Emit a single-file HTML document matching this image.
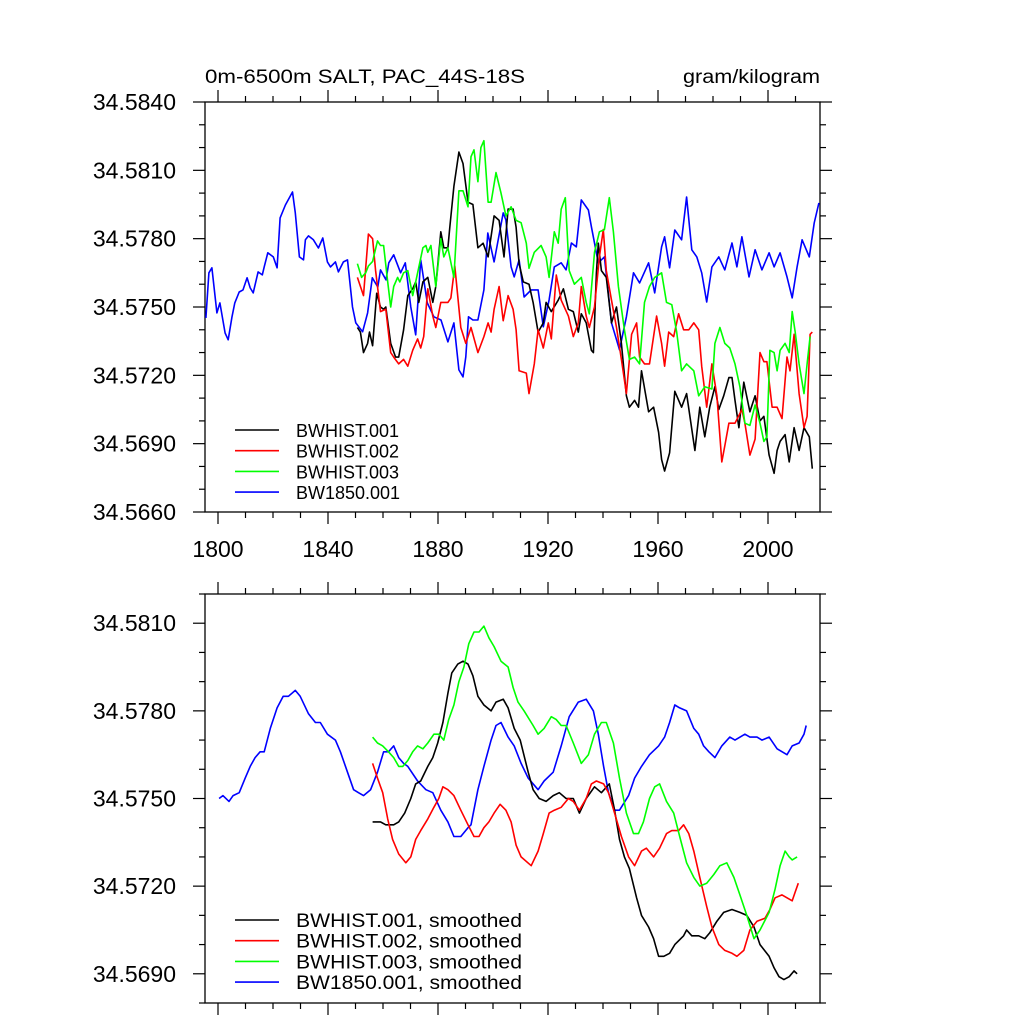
<!DOCTYPE html>
<html><head><meta charset="utf-8"><style>
html,body{margin:0;padding:0;background:#fff;}
svg{display:block;font-family:"Liberation Sans",Arial,sans-serif;}
</style></head>
<body>
<svg id="chart" width="1024" height="1024" viewBox="0 0 1024 1024" xmlns="http://www.w3.org/2000/svg">
<rect x="0" y="0" width="1024" height="1024" fill="#fff"/>
<text x="205" y="83" font-size="19" textLength="320" lengthAdjust="spacingAndGlyphs">0m-6500m SALT, PAC_44S-18S</text>
<text x="820" y="83" font-size="19" text-anchor="end" textLength="137" lengthAdjust="spacingAndGlyphs">gram/kilogram</text>
<g id="top"></g>
<g id="bot"></g>
</svg>
<script>
// ---- data: top panel (annual means) ----
const blueYears=[1795.6,1796.7,1797.8,1799.6,1800.7,1802.6,1803.7,1805.1,1806.1,1807.7,1809.1,1810.6,1811.7,1812.8,1814.6,1816.1,1816.8,1818.1,1820.1,1821.5,1822.6,1824.5,1827.1,1828.1,1829.6,1831.1,1831.8,1832.9,1834.7,1836.5,1838.1,1839.8,1840.9,1842.7,1843.8,1845.6,1847.1,1848.9,1850.1,1852.6,1854.4,1856.1,1858.1,1859.1,1861.1,1862.1,1863.9,1866.4,1868.1,1870.1,1871.9,1873.7,1876.1,1878.5,1881.1,1883.6,1885.8,1887.6,1889.1,1890.1,1891.1,1892.7,1894.5,1896.7,1898.1,1900.4,1903.7,1904.7,1906.6,1907.7,1909.5,1911.3,1913.9,1916.4,1918.3,1920.4,1922.3,1924.8,1926.6,1928.5,1930.3,1932.1,1934.7,1935.8,1938.3,1940.5,1943.1,1946.0,1948.5,1951.1,1953.3,1956.6,1958.8,1961.3,1962.4,1964.2,1966.1,1968.6,1970.4,1972.3,1974.1,1975.9,1977.7,1979.6,1982.1,1984.3,1986.9,1988.7,1990.5,1993.1,1995.3,1997.8,2000.4,2002.2,2004.4,2006.9,2008.8,2010.6,2012.4,2015.0,2016.8,2018.5];
const blueVals=[34.57452,34.57650,34.57672,34.57474,34.57518,34.57386,34.57356,34.57457,34.57518,34.57566,34.57575,34.57628,34.57584,34.57562,34.57654,34.57641,34.57676,34.57738,34.57720,34.57672,34.57891,34.57948,34.58005,34.57913,34.57720,34.57707,34.57795,34.57812,34.57795,34.57759,34.57803,34.57698,34.57676,34.57698,34.57654,34.57698,34.57707,34.57500,34.57430,34.57391,34.57474,34.57628,34.57588,34.57663,34.57619,34.57694,34.57729,34.57650,34.57694,34.57500,34.57378,34.57707,34.57518,34.57457,34.57443,34.57347,34.57430,34.57224,34.57193,34.57281,34.57457,34.57443,34.57443,34.57575,34.57825,34.57698,34.57913,34.57882,34.57676,34.57632,34.57707,34.57544,34.57575,34.57575,34.57413,34.57531,34.57676,34.57694,34.57663,34.57781,34.57764,34.57970,34.57926,34.57852,34.57694,34.57720,34.57430,34.57312,34.57457,34.57650,34.57606,34.57694,34.57562,34.57764,34.57808,34.57672,34.57838,34.57795,34.57983,34.57751,34.57720,34.57650,34.57522,34.57676,34.57720,34.57663,34.57781,34.57676,34.57808,34.57632,34.57751,34.57663,34.57738,34.57676,34.57738,34.57632,34.57540,34.57676,34.57795,34.57720,34.57869,34.57957];
const blackYears=[1850.7,1851.8,1852.9,1854.4,1855.1,1856.2,1857.7,1859.1,1860.2,1861,1862.8,1864.6,1865.7,1867.5,1869,1870.8,1871.9,1873,1874.5,1876.3,1878.1,1879.2,1881,1882.1,1883.6,1884.3,1885.8,1887.6,1889.1,1890.9,1892.7,1894.5,1896.4,1898.2,1900.4,1902.2,1904,1905.5,1907.3,1908.4,1909.5,1911,1913.1,1914.6,1916.4,1918.3,1919.3,1921.2,1923.7,1925.6,1927.4,1929.2,1931,1932.1,1933.9,1935.8,1936.5,1937.6,1938.3,1939.4,1941.2,1943.1,1944.9,1946.7,1948.5,1949.6,1951.5,1952.9,1954,1956.6,1958.4,1960.2,1961.3,1962.4,1964.2,1966.1,1968.6,1970.4,1973.4,1975.2,1977,1978.8,1980.7,1982.1,1983.9,1985.8,1986.9,1988,1989.4,1991.2,1993.4,1995.3,1997.1,1998.5,2000.4,2002.2,2003.3,2004.4,2006.2,2007.7,2009.5,2011.3,2013.1,2015,2016.1];
const blackVals=[34.5741,34.5739,34.5730,34.5734,34.5739,34.5733,34.5756,34.5750,34.5749,34.5750,34.5734,34.5728,34.5728,34.5740,34.5755,34.5758,34.5761,34.5752,34.5761,34.5763,34.5752,34.5759,34.5783,34.5776,34.5776,34.5785,34.5803,34.5818,34.5813,34.5796,34.5795,34.5776,34.5778,34.5772,34.5790,34.5788,34.5772,34.5793,34.5793,34.5785,34.5769,34.5761,34.5760,34.5752,34.5739,34.5743,34.5752,34.5748,34.5753,34.5758,34.5749,34.5748,34.5739,34.5747,34.5743,34.5731,34.5730,34.5765,34.5778,34.5766,34.5763,34.5743,34.5750,34.5734,34.5711,34.5706,34.5709,34.5706,34.5722,34.5704,34.5706,34.5695,34.5683,34.5678,34.5686,34.5713,34.5706,34.5712,34.5687,34.5706,34.5693,34.5706,34.5715,34.5705,34.5711,34.5719,34.5719,34.5709,34.5697,34.5717,34.5704,34.5711,34.5700,34.5702,34.5685,34.5677,34.5687,34.5691,34.5694,34.5682,34.5697,34.5687,34.5697,34.5693,34.5679];
const redYears=[1850.7,1852.9,1854.7,1856.2,1857.3,1859.1,1861,1862.8,1863.9,1865.7,1867.5,1869,1870.8,1872.6,1873.7,1874.8,1876.3,1878.1,1879.2,1881,1883.6,1884.7,1886.1,1888.3,1890.1,1892,1894.5,1896.7,1898.2,1899.3,1900.4,1902.2,1903.7,1905.5,1907.3,1908.4,1909.5,1912.1,1913.1,1915,1916.4,1918.3,1920.1,1921.2,1923,1924.8,1927.4,1929.2,1931,1932.1,1933.9,1935,1936.9,1938.7,1940.1,1941.2,1943.1,1944.9,1946.7,1948.5,1950.4,1952.2,1953.3,1955.1,1956.9,1959.5,1961.3,1962.4,1963.9,1965.7,1967.5,1969.3,1971.2,1973,1974.8,1975.9,1977.7,1979.6,1981.4,1983.2,1984.3,1985.8,1988,1990.5,1991.6,1993.4,1995.3,1997.1,1998.5,1999.6,2001.5,2003.3,2005.1,2006.9,2008,2009.5,2011.3,2013.1,2014.2,2015.3,2016.1];
const redVals=[34.5763,34.5755,34.5782,34.5780,34.5766,34.5748,34.5749,34.5730,34.5728,34.5725,34.5727,34.5724,34.5731,34.5736,34.5732,34.5737,34.5758,34.5746,34.5741,34.5752,34.5752,34.5754,34.5768,34.5741,34.5734,34.5741,34.5730,34.5737,34.5743,34.5739,34.5749,34.5759,34.5744,34.5755,34.5749,34.5740,34.5722,34.5721,34.5712,34.5725,34.5740,34.5732,34.5743,34.5736,34.5764,34.5753,34.5746,34.5737,34.5743,34.5759,34.5746,34.5741,34.5750,34.5772,34.5784,34.5766,34.5753,34.5741,34.5727,34.5712,34.5738,34.5743,34.5728,34.5725,34.5725,34.5746,34.5734,34.5724,34.5739,34.5737,34.5747,34.5740,34.5740,34.5743,34.5740,34.5724,34.5706,34.5725,34.5711,34.5682,34.5689,34.5699,34.5699,34.5705,34.5699,34.5685,34.5692,34.5730,34.5726,34.5726,34.5706,34.5706,34.5701,34.5728,34.5722,34.5738,34.5712,34.5697,34.5702,34.5738,34.5739];
const greenYears=[1850.7,1852.2,1853.7,1854.7,1856.2,1858,1859.1,1860.2,1861.7,1862.8,1863.9,1865.3,1866.1,1867.5,1869,1870.8,1871.9,1874.5,1875.6,1876.3,1877.4,1879.2,1881,1882.1,1883.6,1885.8,1887.6,1889.1,1890.9,1892,1893.1,1894.5,1895.6,1896.7,1898.2,1899.3,1901.1,1902.9,1904.7,1906.6,1908.4,1910.2,1912.1,1913.1,1915,1917.5,1919.3,1920.4,1922.3,1923.7,1924.8,1926.3,1927.7,1929.6,1932.1,1933.9,1935,1936.9,1938.7,1940.5,1942.3,1943.8,1945.6,1947.8,1949.6,1951.5,1953.3,1955.1,1956.9,1958.8,1961.3,1963.1,1965,1966.8,1968.6,1970.4,1973,1974.8,1977,1979.6,1980.7,1982.5,1984.3,1986.1,1988,1989.8,1991.6,1993.4,1995.3,1997.1,1998.5,1999.6,2000.7,2002.2,2003.3,2004.4,2006.2,2007.7,2008.8,2009.9,2011.3,2013.1,2014.2,2015.3];
const greenVals=[34.5769,34.5763,34.5765,34.5768,34.5770,34.5779,34.5777,34.5777,34.5761,34.5750,34.5759,34.5763,34.5761,34.5765,34.5766,34.5755,34.5761,34.5776,34.5777,34.5774,34.5777,34.5759,34.5780,34.5772,34.5776,34.5763,34.5801,34.5801,34.5794,34.5816,34.5819,34.5805,34.5820,34.5823,34.5796,34.5796,34.5809,34.5800,34.5790,34.5794,34.5788,34.5787,34.5778,34.5767,34.5774,34.5777,34.5772,34.5763,34.5783,34.5778,34.5793,34.5798,34.5766,34.5760,34.5763,34.5752,34.5747,34.5774,34.5783,34.5784,34.5798,34.5783,34.5759,34.5740,34.5727,34.5728,34.5725,34.5752,34.5759,34.5763,34.5765,34.5752,34.5751,34.5739,34.5722,34.5725,34.5722,34.5711,34.5715,34.5714,34.5734,34.5741,34.5734,34.5732,34.5725,34.5715,34.5699,34.5698,34.5707,34.5699,34.5691,34.5693,34.5731,34.5730,34.5722,34.5731,34.5734,34.5730,34.5748,34.5739,34.5725,34.5712,34.5725,34.5737];
// ---- data: bottom panel (smoothed) ----
const sBlueYears=[1800.4,1801.8,1804,1805.5,1807.7,1809.9,1811.7,1813.5,1815.3,1816.8,1819,1821.5,1823.7,1825.6,1828.1,1829.9,1832.9,1835.4,1837.2,1839.8,1842.7,1844.5,1847.1,1849.3,1851.1,1852.9,1855.5,1858,1860.2,1862,1863.9,1865.7,1867.5,1869,1872.6,1875.6,1878.1,1881,1883.6,1885.8,1888.3,1890.9,1892,1894.5,1896.7,1899.3,1901.1,1902.9,1905.5,1907.7,1910.2,1912.8,1916.4,1918.6,1921.9,1924.8,1927.7,1931,1933.9,1936.5,1938.3,1940.2,1942,1944.2,1946,1949.3,1951.5,1954,1956.9,1960.2,1962.4,1964.2,1966.1,1967.9,1970.4,1973,1974.8,1976.6,1978.5,1980.7,1983.2,1986.1,1988,1991.6,1993.4,1996,1997.8,2000.4,2003.3,2006.9,2008.8,2011.3,2013.1,2013.9];
const sBlueVals=[34.5750,34.5751,34.5749,34.5751,34.5752,34.5757,34.5761,34.5764,34.5766,34.5766,34.5774,34.5781,34.5785,34.5785,34.5787,34.5785,34.5779,34.5776,34.5776,34.5772,34.5770,34.5766,34.5759,34.5753,34.5752,34.5751,34.5753,34.5759,34.5766,34.5766,34.5768,34.5764,34.5762,34.5761,34.5756,34.5753,34.5752,34.5746,34.5742,34.5737,34.5737,34.5740,34.5741,34.5753,34.5761,34.5770,34.5775,34.5776,34.5771,34.5768,34.5762,34.5757,34.5753,34.5756,34.5759,34.5768,34.5778,34.5783,34.5784,34.5780,34.5772,34.5761,34.5752,34.5746,34.5746,34.5751,34.5757,34.5761,34.5765,34.5768,34.5771,34.5776,34.5782,34.5781,34.5780,34.5774,34.5772,34.5768,34.5766,34.5764,34.5768,34.5771,34.5770,34.5772,34.5771,34.5771,34.5770,34.5771,34.5767,34.5765,34.5768,34.5769,34.5772,34.5775];
const sBlackYears=[1856.2,1859.1,1861,1863.9,1865.7,1867.9,1870.1,1871.9,1873.7,1876.3,1878.1,1879.9,1881.8,1883.6,1885,1887.2,1889.1,1890.9,1892.7,1894.5,1896.7,1899.3,1901.1,1903.7,1905.5,1907.7,1909.9,1912.8,1914.6,1916.8,1919.3,1921.9,1924.1,1926.6,1929.2,1931.4,1933.9,1936.9,1939.4,1942.3,1944.2,1946,1947.8,1949.6,1952.2,1954,1956.6,1958.4,1960.2,1962.1,1964.2,1966.1,1969.3,1970.4,1972.3,1974.8,1977,1978.8,1981.4,1983.9,1986.9,1989.8,1992.3,1994.9,1997.1,2000.4,2002.2,2004,2005.8,2007.7,2009.5,2010.6];
const sBlackVals=[34.5742,34.5742,34.5741,34.5741,34.5742,34.5745,34.5750,34.5755,34.5756,34.5761,34.5764,34.5769,34.5776,34.5786,34.5793,34.5796,34.5797,34.5796,34.5792,34.5785,34.5782,34.5780,34.5783,34.5784,34.5781,34.5774,34.5770,34.5759,34.5753,34.5750,34.5749,34.5751,34.5752,34.5750,34.5750,34.5745,34.5750,34.5754,34.5752,34.5755,34.5746,34.5736,34.5730,34.5726,34.5716,34.5710,34.5706,34.5702,34.5696,34.5696,34.5697,34.5700,34.5703,34.5705,34.5703,34.5703,34.5702,34.5704,34.5708,34.5711,34.5712,34.5711,34.5710,34.5706,34.5700,34.5696,34.5692,34.5689,34.5688,34.5689,34.5691,34.5690];
const sRedYears=[1856.2,1858,1859.9,1861.7,1863.5,1865.7,1868.3,1870.1,1871.9,1873.7,1876.3,1878.5,1880.3,1881.8,1883.6,1885.8,1888.3,1890.9,1893.1,1894.9,1896.7,1898.5,1900.4,1902.6,1904.7,1906.6,1908.4,1910.2,1913.9,1916.4,1918.3,1920.4,1922.3,1924.8,1927.4,1929.2,1931.4,1933.9,1935.8,1937.6,1940.2,1942,1944.2,1946.7,1949.3,1951.5,1954,1955.8,1958.4,1960.6,1963.1,1965,1967.5,1969.3,1971.2,1973,1975.2,1977.7,1979.6,1982.1,1984.3,1986.9,1988.7,1991.2,1993.4,1996,1998.9,2000.7,2002.6,2005.1,2006.9,2008.8,2009.9,2011];
const sRedVals=[34.5762,34.5757,34.5752,34.5743,34.5736,34.5731,34.5728,34.5730,34.5736,34.5739,34.5743,34.5747,34.5750,34.5754,34.5753,34.5751,34.5746,34.5741,34.5737,34.5737,34.5740,34.5742,34.5745,34.5748,34.5746,34.5742,34.5734,34.5730,34.5727,34.5732,34.5738,34.5745,34.5746,34.5747,34.5750,34.5749,34.5746,34.5750,34.5755,34.5756,34.5755,34.5752,34.5745,34.5737,34.5730,34.5727,34.5732,34.5733,34.5730,34.5733,34.5738,34.5739,34.5739,34.5741,34.5738,34.5732,34.5723,34.5713,34.5706,34.5700,34.5698,34.5697,34.5696,34.5698,34.5705,34.5708,34.5709,34.5712,34.5716,34.5717,34.5716,34.5715,34.5718,34.5721];
const sGreenYears=[1856.2,1858,1859.9,1862,1863.9,1865.7,1867.2,1869,1870.8,1872.6,1874.5,1876.3,1878.5,1880.3,1882.1,1883.9,1885.8,1887.6,1889.4,1891.2,1893.1,1894.9,1896.7,1898.5,1900.4,1902.9,1905.5,1907.3,1909.1,1911.3,1914.6,1916.4,1918.6,1921.2,1923,1924.8,1926.6,1929.2,1932.1,1934.7,1936.9,1939.4,1941.2,1943.8,1946,1948.5,1951.1,1952.9,1954.7,1956.9,1958.8,1960.6,1963.1,1965.7,1967.9,1970.4,1973,1975.2,1977.7,1980.3,1982.5,1985,1987.6,1989.8,1992.3,1994.9,1997.1,2000.4,2002.6,2004.4,2006.2,2007.7,2008.8,2010.6];
const sGreenVals=[34.5771,34.5769,34.5768,34.5766,34.5764,34.5761,34.5761,34.5763,34.5766,34.5768,34.5767,34.5769,34.5772,34.5772,34.5770,34.5777,34.5782,34.5790,34.5795,34.5803,34.5807,34.5807,34.5809,34.5805,34.5802,34.5797,34.5795,34.5788,34.5783,34.5780,34.5775,34.5772,34.5774,34.5778,34.5777,34.5775,34.5775,34.5769,34.5762,34.5765,34.5772,34.5776,34.5776,34.5769,34.5757,34.5745,34.5738,34.5738,34.5742,34.5750,34.5754,34.5755,34.5749,34.5745,34.5737,34.5728,34.5723,34.5720,34.5721,34.5724,34.5727,34.5728,34.5723,34.5717,34.5710,34.5702,34.5705,34.5711,34.5719,34.5727,34.5732,34.5730,34.5729,34.5730];
// tick labels
const xTickYears=[1800,1840,1880,1920,1960,2000];
const topYTicks=[34.5660,34.5690,34.5720,34.5750,34.5780,34.5810,34.5840];
const botYTicks=[34.5690,34.5720,34.5750,34.5780,34.5810];
const topLegend=["BWHIST.001","BWHIST.002","BWHIST.003","BW1850.001"];
const botLegend=["BWHIST.001, smoothed","BWHIST.002, smoothed","BWHIST.003, smoothed","BW1850.001, smoothed"];

const NS="http://www.w3.org/2000/svg";
const L=205,R=820;
function xS(yr){return 218+(yr-1800)*2.75;}
function yTop(v){return 102+(34.584-v)/0.018*410;}
function yBot(v){return 594+(34.582-v)/0.014*409;}
function mk(tag,attrs,parent){const e=document.createElementNS(NS,tag);for(const k in attrs)e.setAttribute(k,attrs[k]);parent.appendChild(e);return e;}

function panel(g,top,bot,yS,yMin,yMax,majors,showX,name){
  const f=mk('rect',{x:L,y:top,width:R-L,height:bot-top,fill:'none',stroke:'#000','stroke-width':1.3},g);
  
  
  for(let yr=1790;yr<=2020;yr+=10){
    const x=xS(yr); if(x<L||x>R) continue;
    const major=(yr%40===0);
    const len=major?12:6;
    const t1=mk('line',{x1:x,x2:x,y1:bot,y2:bot+len,stroke:'#000','stroke-width':1.2},g);
    
    
    const t2=mk('line',{x1:x,x2:x,y1:top,y2:top-len,stroke:'#000','stroke-width':1.2},g);
    
    
  }
  for(let k=Math.round(yMin*10000);k<=Math.round(yMax*10000);k+=10){
    const v=k/10000,y=yS(v);
    const major=majors.some(m=>Math.abs(m-v)<1e-6);
    const len=major?12:6;
    const a=mk('line',{x1:L,x2:L-len,y1:y,y2:y,stroke:'#000','stroke-width':1.2},g);
    
    
    const b=mk('line',{x1:R,x2:R+len,y1:y,y2:y,stroke:'#000','stroke-width':1.2},g);
    
    
  }
  majors.forEach(v=>{
    const t=mk('text',{x:176,y:yS(v)+8,'font-size':23,'text-anchor':'end'},g);
    t.textContent=v.toFixed(4);
    
    
  });
  if(showX){
    xTickYears.forEach(yr=>{
      const t=mk('text',{x:xS(yr),y:557,'font-size':23,'text-anchor':'middle'},g);
      t.textContent=String(yr);
      
      
    });
  }
}
function series(g,yrs,vals,yS,color,name){
  let d='';
  for(let i=0;i<yrs.length;i++){d+=(i?'L':'M')+xS(yrs[i]).toFixed(1)+','+yS(vals[i]).toFixed(1);}
  const p=mk('path',{d:d,fill:'none',stroke:color,'stroke-width':1.6,'stroke-linejoin':'round'},g);
  
  
}
function legend(g,labels,y0,dy,fs,tl){
  const cols=['#000','#f00','#0f0','#00f'];
  labels.forEach((s,i)=>{
    const y=y0+i*dy;
    const l=mk('line',{x1:235,x2:279,y1:y,y2:y,stroke:cols[i],'stroke-width':1.6},g);
    
    
    const attrs={x:296,y:y+7,'font-size':fs};
    if(tl){attrs.textLength=tl;attrs.lengthAdjust='spacingAndGlyphs';}
    const t=mk('text',attrs,g);
    t.textContent=s;
    
    
  });
}
const gt=document.getElementById('top'),gb=document.getElementById('bot');
panel(gt,102,512,yTop,34.566,34.584,topYTicks,true,'top');
series(gt,blueYears,blueVals,yTop,'#00f','bw1850-line');
series(gt,blackYears,blackVals,yTop,'#000','bwhist001-line');
series(gt,redYears,redVals,yTop,'#f00','bwhist002-line');
series(gt,greenYears,greenVals,yTop,'#0f0','bwhist003-line');
legend(gt,topLegend,430,20.7,18,0);
panel(gb,594,1003,yBot,34.568,34.582,botYTicks,false,'bottom');
series(gb,sBlueYears,sBlueVals,yBot,'#00f','bw1850-smoothed-line');
series(gb,sBlackYears,sBlackVals,yBot,'#000','bwhist001-smoothed-line');
series(gb,sRedYears,sRedVals,yBot,'#f00','bwhist002-smoothed-line');
series(gb,sGreenYears,sGreenVals,yBot,'#0f0','bwhist003-smoothed-line');
legend(gb,botLegend,920,20.7,19,226);
</script>
</body></html>
